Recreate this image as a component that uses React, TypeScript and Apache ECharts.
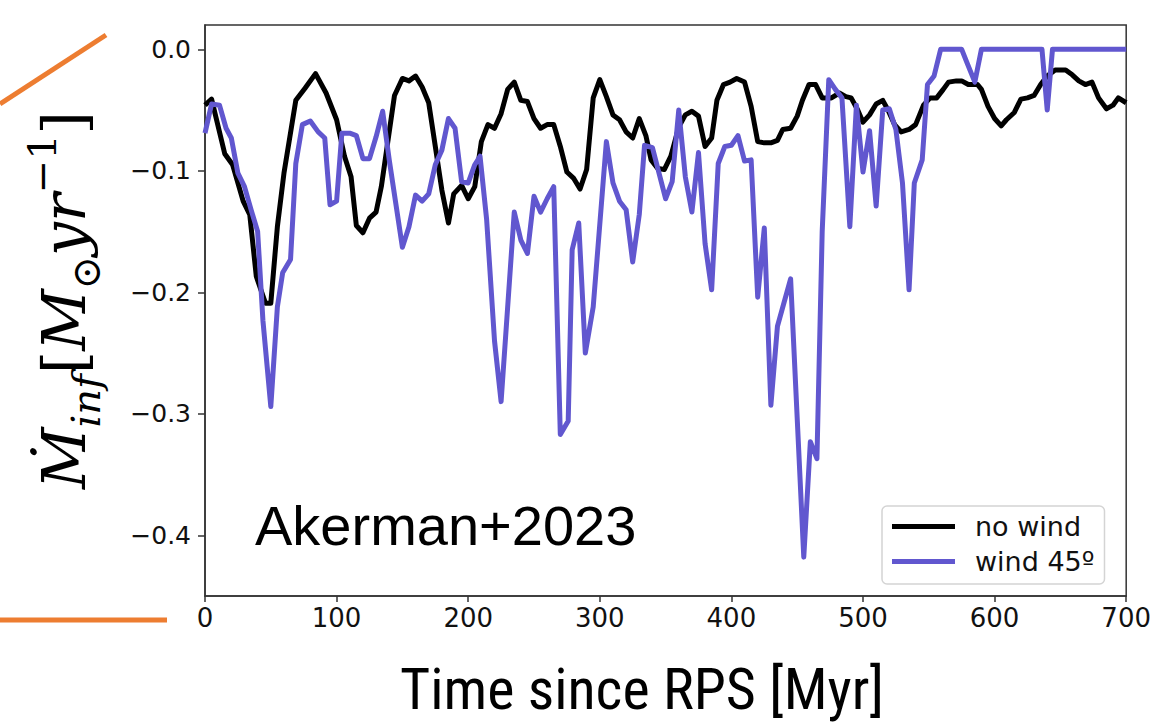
import React, { useEffect, useRef } from "react";
import * as echarts from "echarts";

// Time since RPS [Myr] and inflow rate for "no wind"
const noWindT = [0,5,15,21,29,34,39,46,50,55,60,69,76,84,92,100,106,111,115,120,125,130,134,138,144,150,155,160,165,170,175,180,185,189,195,200,205,210,215,220,225,230,235,240,245,250,255,260,265,270,275,280,285,290,295,300,305,310,315,320,325,330,335,339,344,349,354,360,365,370,375,380,385,389,394,399,404,410,415,420,425,430,435,439,445,450,454,459,464,469,476,482,487,491,496,500,505,510,515,519,524,529,535,540,546,551,556,561,565,571,575,580,587,590,595,600,605,609,615,620,625,630,635,640,646,654,659,664,669,674,679,685,690,694,700];
const noWindRate = [-0.046,-0.041,-0.086,-0.095,-0.125,-0.136,-0.187,-0.209,-0.209,-0.146,-0.102,-0.042,-0.032,-0.020,-0.036,-0.058,-0.088,-0.105,-0.145,-0.151,-0.139,-0.134,-0.113,-0.083,-0.038,-0.024,-0.026,-0.022,-0.031,-0.044,-0.080,-0.116,-0.143,-0.119,-0.112,-0.123,-0.113,-0.076,-0.062,-0.065,-0.053,-0.033,-0.027,-0.042,-0.043,-0.057,-0.065,-0.062,-0.062,-0.080,-0.101,-0.106,-0.115,-0.099,-0.040,-0.025,-0.039,-0.054,-0.058,-0.068,-0.073,-0.057,-0.071,-0.091,-0.098,-0.099,-0.088,-0.064,-0.054,-0.051,-0.055,-0.080,-0.073,-0.042,-0.029,-0.027,-0.024,-0.027,-0.047,-0.076,-0.077,-0.077,-0.075,-0.066,-0.065,-0.055,-0.042,-0.029,-0.029,-0.040,-0.040,-0.036,-0.039,-0.040,-0.050,-0.060,-0.054,-0.045,-0.042,-0.050,-0.062,-0.068,-0.066,-0.062,-0.046,-0.040,-0.040,-0.033,-0.027,-0.026,-0.026,-0.029,-0.029,-0.033,-0.047,-0.057,-0.063,-0.058,-0.052,-0.041,-0.040,-0.038,-0.029,-0.022,-0.017,-0.017,-0.021,-0.026,-0.029,-0.027,-0.040,-0.049,-0.046,-0.040,-0.044];

// Time since RPS [Myr] and inflow rate for "wind 45º"
const windT = [0,5,11,16,20,25,30,35,40,44,50,55,59,65,69,74,80,86,91,95,100,104,110,115,120,125,130,135,140,145,150,155,160,165,170,175,180,185,190,195,200,205,209,214,220,225,235,240,245,250,255,260,265,270,276,279,284,289,295,305,310,315,320,325,330,334,340,345,350,355,360,365,370,375,380,385,390,395,400,405,410,415,420,425,430,435,445,455,460,465,469,474,479,484,490,495,500,505,510,515,520,525,530,535,539,545,549,554,559,575,579,585,590,636,640,644,700];
const windRate = [-0.069,-0.045,-0.046,-0.065,-0.073,-0.102,-0.113,-0.132,-0.150,-0.223,-0.294,-0.212,-0.184,-0.173,-0.094,-0.062,-0.059,-0.068,-0.073,-0.128,-0.125,-0.069,-0.069,-0.071,-0.090,-0.090,-0.072,-0.051,-0.091,-0.127,-0.163,-0.146,-0.120,-0.125,-0.119,-0.095,-0.083,-0.057,-0.065,-0.109,-0.110,-0.095,-0.088,-0.140,-0.240,-0.290,-0.134,-0.157,-0.168,-0.121,-0.134,-0.123,-0.113,-0.317,-0.306,-0.165,-0.143,-0.250,-0.212,-0.076,-0.110,-0.125,-0.132,-0.175,-0.136,-0.079,-0.081,-0.102,-0.123,-0.109,-0.050,-0.105,-0.134,-0.085,-0.160,-0.198,-0.094,-0.080,-0.079,-0.071,-0.092,-0.091,-0.204,-0.147,-0.293,-0.228,-0.189,-0.418,-0.323,-0.337,-0.150,-0.025,-0.033,-0.040,-0.146,-0.046,-0.101,-0.067,-0.129,-0.050,-0.049,-0.066,-0.110,-0.198,-0.110,-0.091,-0.029,-0.022,0,0,-0.011,-0.027,0,0,-0.050,0,0];

const seriesNames = ["no wind", "wind 45º"];
const xTicks = [0, 100, 200, 300, 400, 500, 600, 700];
const yTicks = [-0.4, -0.3, -0.2, -0.1, 0.0];

const zip = (xs: number[], ys: number[]) => xs.map((x, i) => [x, ys[i]]);

export default function App() {
  const ref = useRef<HTMLDivElement>(null);
  useEffect(() => {
    if (!ref.current) return;
    const chart = echarts.init(ref.current, undefined, { renderer: "svg" });
    const fmtY = (v: number) => {
      const s = Math.abs(v).toFixed(1);
      return v < -1e-9 ? "\u2212" + s : s;
    };
    chart.setOption({
      animation: false,
      backgroundColor: "#ffffff",
      grid: {
        left: 205,
        right: 24.5,
        top: 25,
        bottom: 129,
        show: true,
        borderColor: "#333333",
        borderWidth: 1.5,
        backgroundColor: "transparent",
      },
      xAxis: {
        type: "value",
        min: 0,
        max: 700,
        interval: 100,
        axisLine: { show: true, onZero: false, lineStyle: { color: "#333333", width: 1.5 } },
        axisTick: { show: true, length: 6, lineStyle: { color: "#333333", width: 1.5 } },
        splitLine: { show: false },
        axisLabel: {
          color: "#111111",
          fontFamily: "DejaVu Sans",
          fontSize: 26,
          margin: 9,
          formatter: (v: number) => (xTicks.includes(v) ? String(v) : ""),
        },
      },
      yAxis: {
        type: "value",
        min: -0.45,
        max: 0.02,
        axisLine: { show: true, onZero: false, lineStyle: { color: "#333333", width: 1.5 } },
        axisTick: { show: true, length: 7, customValues: yTicks, lineStyle: { color: "#333333", width: 1.5 } },
        splitLine: { show: false },
        axisLabel: {
          color: "#111111",
          fontFamily: "DejaVu Sans",
          fontSize: 25,
          margin: 14,
          customValues: yTicks,
          formatter: fmtY,
        },
      },
      legend: {
        show: true,
        orient: "vertical",
        left: 882,
        top: 506,
        data: seriesNames,
        icon: "rect",
        itemWidth: 63,
        itemHeight: 5,
        itemGap: 8,
        padding: [7, 10, 9, 10],
        backgroundColor: "#ffffff",
        borderColor: "#d4d4d4",
        borderWidth: 1.5,
        borderRadius: 5,
        textStyle: {
          color: "#111111",
          fontFamily: "DejaVu Sans",
          fontSize: 27,
          lineHeight: 27,
          padding: [0, 0, 0, 15],
        },
      },
      series: [
        {
          name: seriesNames[0],
          type: "line",
          data: zip(noWindT, noWindRate),
          showSymbol: false,
          symbol: "none",
          lineStyle: { color: "#000000", width: 5, join: "round" },
          itemStyle: { color: "#000000" },
          z: 3,
        },
        {
          name: seriesNames[1],
          type: "line",
          data: zip(windT, windRate),
          showSymbol: false,
          symbol: "none",
          lineStyle: { color: "#6157CF", width: 5, join: "round" },
          itemStyle: { color: "#6157CF" },
          z: 4,
        },
      ],
      graphic: [
        {
          type: "line",
          shape: { x1: 0, y1: 104, x2: 106, y2: 35 },
          style: { stroke: "#ED7D31", lineWidth: 5 },
          silent: true,
        },
        {
          type: "line",
          shape: { x1: 0, y1: 620, x2: 167, y2: 620 },
          style: { stroke: "#ED7D31", lineWidth: 5 },
          silent: true,
        },
        {
          type: "text",
          left: 255,
          top: 497,
          style: {
            text: "Akerman+2023",
            fill: "#000000",
            font: "56px 'Liberation Sans', Arial, sans-serif",
          },
          z: 10,
        },
        {
          type: "text",
          x: 642,
          y: 689,
          style: {
            text: "Time since RPS [Myr]",
            fill: "#000000",
            font: "58px 'Liberation Sans Narrow', 'Roboto Condensed', Roboto, sans-serif",
            align: "center",
            verticalAlign: "middle",
          },
        },
        {
          type: "text",
          x: 64,
          y: 300,
          rotation: Math.PI / 2,
          style: {
            text: "{a|\u1E40}{s|inf}{b|[}{a|M}{s|\u2299}{a|yr}{p|\u22121}{b|]}",
            align: "center",
            verticalAlign: "middle",
            fill: "#000000",
            rich: {
              a: { fontFamily: "DejaVu Serif", fontStyle: "italic", fontSize: 60, lineHeight: 84, verticalAlign: "middle", fill: "#000" },
              b: { fontFamily: "DejaVu Serif", fontSize: 60, lineHeight: 84, verticalAlign: "middle", fill: "#000" },
              s: { fontFamily: "DejaVu Serif", fontStyle: "italic", fontSize: 40, lineHeight: 84, verticalAlign: "bottom", fill: "#000" },
              p: { fontFamily: "DejaVu Serif", fontSize: 40, lineHeight: 84, verticalAlign: "top", fill: "#000" },
            },
          },
        },
      ],
    });
    return () => chart.dispose();
  }, []);
  return (
    <div
      ref={ref}
      style={{ position: "fixed", left: 0, top: 0, width: 1154, height: 725, background: "#fff" }}
    />
  );
}
